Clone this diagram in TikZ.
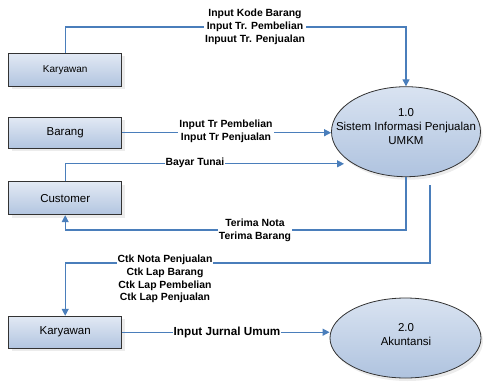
\documentclass[tikz,border=0pt]{standalone}
\usepackage{fontspec}
\setmainfont{Liberation Sans}
\usetikzlibrary{arrows.meta,shapes.geometric,shadows,calc}
\definecolor{flowblue}{HTML}{4A7EBB}
\definecolor{boxtop}{HTML}{E2E9F4}
\definecolor{boxbot}{HTML}{B2C5E0}
\definecolor{elltop}{HTML}{D9E3F1}
\definecolor{ellbot}{HTML}{AFC3DF}
\begin{document}
\begin{tikzpicture}[x=1pt,y=-1pt,
  entity/.style={draw=black!80, line width=0.8pt, minimum width=113pt, minimum height=33pt,
    inner sep=0pt, top color=boxtop, bottom color=boxbot,
    drop shadow={shadow xshift=3pt,shadow yshift=-3pt,fill=black!15},
    font=\fontsize{11.5}{14}\selectfont},
  proc/.style={ellipse, draw=black!80, line width=0.8pt, inner sep=0pt,
    top color=elltop, bottom color=ellbot,
    drop shadow={shadow xshift=2pt,shadow yshift=-3pt,fill=black!15}},
  ptext/.style={align=center, inner sep=0pt, font=\fontsize{11.5}{14}\selectfont},
  flow/.style={draw=flowblue, line width=1.2pt, -{Triangle[length=7pt,width=7pt]}},
  lbl/.style={fill=white, inner sep=1pt, align=center, font=\bfseries\fontsize{10.4}{12.8}\selectfont}
]
\useasboundingbox (0,0) rectangle (484,383);

% external entities
\node[entity, font=\fontsize{10}{12}\selectfont] (k1) at (65.2,69.7) {Karyawan};
\node[entity, minimum height=31pt] (b) at (65.2,132.7) {Barang};
\node[entity] (c) at (65.2,198.3) {Customer};
\node[entity, minimum height=32pt] (k2) at (65.2,332.2) {Karyawan};

% processes
\node[proc, minimum width=149pt, minimum height=90pt] (p1) at (406,131.7) {};
\node[ptext] (p1t) at (406,127) {1.0\\Sistem Informasi Penjualan\\UMKM};
\node[proc, minimum width=151pt, minimum height=80pt] (p2) at (405.5,338) {};
\node[ptext] (p2t) at (406,335) {2.0\\Akuntansi};

% helper coordinates
\coordinate (y1) at (0,27);
\coordinate (y4) at (0,230);
\coordinate (s5) at (430,185);
\coordinate (y5) at (0,263);

% flows
\draw[flow] (k1.north) -- (k1.north |- y1) -- (p1.north |- y1) -- (p1.north);
\draw[flow] (b.east) -- (b.east -| p1.west);
\draw[flow, shorten >=9pt] (c.north) |- (p1.south west);
\draw[flow] (p1.south) -- (p1.south |- y4) -| (c.south);
\draw[flow] (s5) -- (s5 |- y5) -| (k2.north);
\draw[flow] (k2.east) -- (k2.east -| p2.west);

% labels
\node[lbl] (l1) at (255,27) {Input Kode Barang\\Input Tr. Pembelian\\Inpuut Tr. Penjualan};
\node[lbl] (l2) at (226,131.5) {Input Tr Pembelian\\Input Tr Penjualan};
\node[lbl] (l3) at (195,163) {Bayar Tunai};
\node[lbl] (l4) at (255,230.5) {Terima Nota\\Terima Barang};
\node[lbl] (l5) at (165,279) {Ctk Nota Penjualan\\Ctk Lap Barang\\Ctk Lap Pembelian\\Ctk Lap Penjualan};
\node[lbl, font=\bfseries\fontsize{11.7}{14}\selectfont] (l6) at (227,332) {Input Jurnal Umum};
\end{tikzpicture}
\end{document}
